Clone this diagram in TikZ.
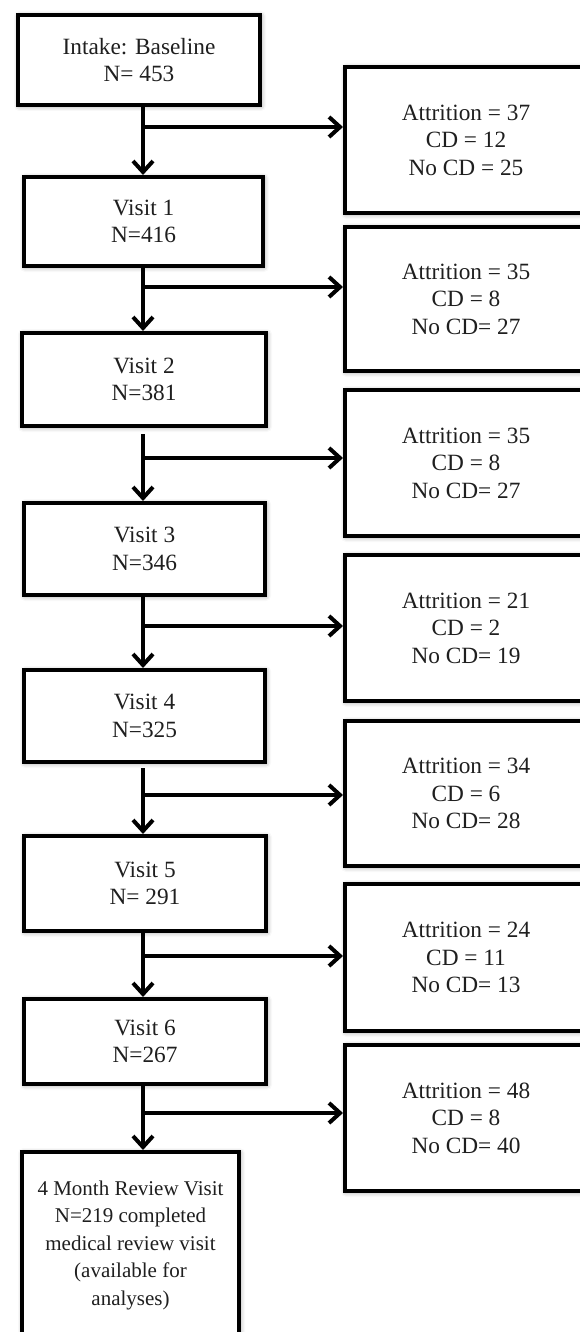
\documentclass[tikz,border=0pt]{standalone}
\usepackage{fontspec}
\setmainfont{Liberation Serif}
\usetikzlibrary{arrows.meta,shadows.blur}
\begin{document}
\begin{tikzpicture}[x=1pt,y=-1pt,
  box/.style={draw=black, line width=4pt, fill=white, align=center, inner sep=0pt,
    font=\fontsize{23.3}{27.5}\selectfont, text=black!88,
    blur shadow={shadow xshift=1pt, shadow yshift=-1pt, shadow blur radius=5pt, shadow opacity=45}},
  flow/.style={line width=4pt, -{Straight Barb[length=11pt, width=20pt]}},
  plain/.style={line width=4pt}
]
\useasboundingbox (0,0) rectangle (580,1332);
\clip (0,0) rectangle (580,1332);

% left column
\node[box, minimum width=242pt, minimum height=90pt] (v0) at (139,60) {Intake: Baseline\\N= 453};
\node[box, minimum width=239pt, minimum height=89pt] (v1) at (143.5,221.5) {Visit 1\\N=416};
\node[box, minimum width=244pt, minimum height=93pt] (v2) at (144,379.5) {Visit 2\\N=381};
\node[box, minimum width=241pt, minimum height=92pt] (v3) at (144.5,549) {Visit 3\\N=346};
\node[box, minimum width=241pt, minimum height=92pt] (v4) at (144.5,716) {Visit 4\\N=325};
\node[box, minimum width=242pt, minimum height=95pt] (v5) at (145,883.5) {Visit 5\\N= 291};
\node[box, minimum width=242pt, minimum height=85pt] (v6) at (145,1041.5) {Visit 6\\N=267};
\node[box, font=\fontsize{21}{27.5}\selectfont, minimum width=217pt, minimum height=186pt] (v7) at (130.5,1245) {4 Month Review Visit\\N=219 completed\\medical review visit\\(available for\\analyses)};

% right column
\node[box, minimum width=242pt, minimum height=146pt] (r1) at (466,140) {Attrition = 37\\CD = 12\\No CD = 25};
\node[box, minimum width=242pt, minimum height=144pt] (r2) at (466,299) {Attrition = 35\\CD = 8\\No CD= 27};
\node[box, minimum width=242pt, minimum height=146pt] (r3) at (466,463) {Attrition = 35\\CD = 8\\No CD= 27};
\node[box, minimum width=242pt, minimum height=146pt] (r4) at (466,628) {Attrition = 21\\CD = 2\\No CD= 19};
\node[box, minimum width=242pt, minimum height=145pt] (r5) at (466,793.5) {Attrition = 34\\CD = 6\\No CD= 28};
\node[box, minimum width=242pt, minimum height=147pt] (r6) at (466,957.5) {Attrition = 24\\CD = 11\\No CD= 13};
\node[box, minimum width=242pt, minimum height=146pt] (r7) at (466,1118) {Attrition = 48\\CD = 8\\No CD= 40};

% branch points
\coordinate (b0) at (143,127);
\coordinate (b1) at (143,287);
\coordinate (b2) at (143,458);
\coordinate (b3) at (143,626);
\coordinate (b4) at (143,795);
\coordinate (b5) at (143,956);
\coordinate (b6) at (143,1113);

% vertical arrows
\draw[flow] (v0.south -| b0) -- (v1.north -| b0);
\draw[flow] (v1.south -| b1) -- (v2.north -| b1);
\draw[flow] ([yshift=-6pt]v2.south -| b2) -- (v3.north -| b2);
\draw[flow] (v3.south -| b3) -- (v4.north -| b3);
\draw[flow] ([yshift=-4pt]v4.south -| b4) -- (v5.north -| b4);
\draw[flow] (v5.south -| b5) -- (v6.north -| b5);
\draw[flow] (v6.south -| b6) -- (v7.north -| b6);

% horizontal arrows
\draw[flow] (b0) -- (b0 -| r1.west);
\draw[flow] (b1) -- (b1 -| r2.west);
\draw[flow] (b2) -- (b2 -| r3.west);
\draw[flow] (b3) -- (b3 -| r4.west);
\draw[flow] (b4) -- (b4 -| r5.west);
\draw[flow] (b5) -- (b5 -| r6.west);
\draw[flow] (b6) -- (b6 -| r7.west);
\end{tikzpicture}
\end{document}
